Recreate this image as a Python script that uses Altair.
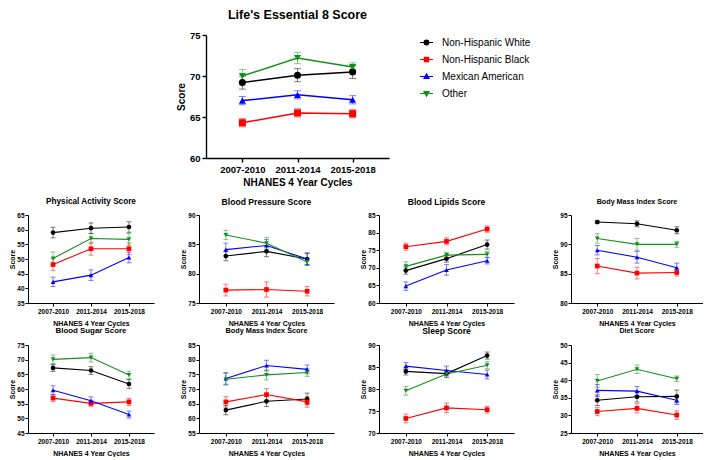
import altair as alt
import pandas as pd

FONT = "Liberation Sans"

cycles = ["2007-2010", "2011-2014", "2015-2018"]
groups = ["Non-Hispanic White", "Non-Hispanic Black", "Mexican American", "Other"]
colors = ["#000000", "#ff0000", "#0000ff", "#13901b"]
shapes = ["circle", "square", "triangle-up", "triangle-down"]

# rows: White, Black, Mexican American, Other ; columns: cycles
le8_mean = [[69.2, 70.1, 70.5], [64.3, 65.5, 65.4], [67.0, 67.7, 67.1], [70.0, 72.2, 71.1]]
le8_err = [[0.8, 0.8, 0.8], [0.5, 0.5, 0.5], [0.5, 0.5, 0.5], [0.8, 0.7, 0.5]]

pa_mean = [[59.0, 60.5, 60.9], [48.1, 53.5, 53.5], [42.2, 44.5, 50.5], [50.2, 57.0, 56.7]]
pa_err = [[1.8, 1.8, 1.8], [2.0, 2.2, 2.0], [1.6, 1.8, 1.8], [2.2, 1.8, 2.0]]

bp_mean = [[83.0, 83.8, 82.5], [77.2, 77.3, 77.0], [84.1, 84.8, 82.5], [86.6, 85.2, 82.0]]
bp_err = [[0.8, 0.9, 1.0], [1.0, 1.3, 0.8], [1.1, 1.0, 1.0], [0.8, 1.0, 0.6]]

lip_mean = [[69.2, 72.6, 76.6], [76.0, 77.5, 81.0], [64.8, 69.4, 72.0], [70.4, 73.6, 73.8]]
lip_err = [[1.0, 1.0, 1.3], [1.0, 1.0, 0.9], [1.2, 1.5, 0.9], [1.3, 0.8, 0.8]]

bmi_mean = [[93.8, 93.5, 92.4], [86.3, 85.1, 85.2], [89.0, 87.8, 86.0], [91.0, 90.0, 90.0]]
bmi_err = [[0.2, 0.5, 0.6], [1.3, 1.0, 0.6], [0.8, 1.0, 0.8], [0.8, 1.0, 0.5]]

sugar_mean = [[67.2, 66.3, 61.7], [56.9, 55.1, 55.6], [59.6, 56.0, 51.3], [70.1, 70.7, 64.8]]
sugar_err = [[1.2, 1.3, 1.5], [1.2, 1.0, 1.2], [1.5, 1.3, 1.2], [1.5, 1.5, 1.3]]

bmi2_mean = [[62.8, 65.8, 66.6], [65.6, 68.1, 65.6], [73.6, 78.0, 76.7], [73.3, 74.8, 75.6]]
bmi2_err = [[1.6, 1.8, 2.0], [1.8, 2.0, 1.8], [2.0, 1.8, 1.5], [2.0, 1.7, 1.3]]

sleep_mean = [[84.0, 83.5, 87.6], [73.3, 75.7, 75.3], [85.2, 84.2, 83.3], [79.6, 83.4, 85.4]]
sleep_err = [[0.8, 0.8, 0.8], [1.0, 1.1, 0.8], [0.8, 1.0, 1.0], [1.0, 0.8, 0.8]]

diet_mean = [[34.3, 35.3, 35.4], [31.1, 32.0, 30.1], [37.1, 36.9, 34.3], [39.8, 43.1, 40.4]]
diet_err = [[1.5, 1.5, 1.8], [1.2, 1.3, 1.2], [1.7, 1.3, 1.2], [1.8, 1.2, 0.8]]

legend_paths = [
    "M-1,0H1M-0.36,0A0.36,0.36,0,1,0,0.36,0A0.36,0.36,0,1,0,-0.36,0Z",
    "M-1,0H1M-0.32,-0.32H0.32V0.32H-0.32Z",
    "M-1,0H1M0,-0.4L0.38,0.28H-0.38Z",
    "M-1,0H1M0,0.4L0.38,-0.28H-0.38Z",
]


def make_df(means, errs):
    rows = []
    for g, ms, es in zip(groups, means, errs):
        for c, m, e in zip(cycles, ms, es):
            rows.append({"cycle": c, "group": g, "score": m, "lo": m - e, "hi": m + e})
    return pd.DataFrame(rows)


def make_panel(title, means, errs, ymin, ymax, width, height, main=False,
               title_size=8.5, title_offset=6):
    df = make_df(means, errs)
    tick_fs = 9.5 if main else 6.5
    axt_fs = 10 if main else 7
    tsize = 4 if main else 3
    dw = 1.4 if main else 1
    x = alt.X("cycle:N", sort=cycles, scale=alt.Scale(type="point", padding=0.66),
              axis=alt.Axis(title="NHANES 4 Year Cycles", labelAngle=0, labelFontSize=tick_fs,
                            titleFontSize=axt_fs, tickSize=tsize, domainWidth=dw, tickWidth=dw,
                            labelPadding=2, titlePadding=4 if main else 5, labelOverlap=False))
    yscale = alt.Scale(domain=[ymin, ymax], nice=False, zero=False)
    yaxis = alt.Axis(title="Score", values=list(range(ymin, ymax + 1, 5)),
                     labelFontSize=tick_fs, titleFontSize=axt_fs, tickSize=tsize,
                     domainWidth=dw, tickWidth=dw, labelPadding=2 if main else 1,
                     titlePadding=3 if main else 1, labelOverlap=False, labelFlush=False)
    y = alt.Y("score:Q", scale=yscale, axis=yaxis)
    ylo = alt.Y("lo:Q", scale=yscale, axis=yaxis)
    yhi = alt.Y("hi:Q", scale=yscale, axis=yaxis)
    col = alt.Color("group:N", sort=groups, scale=alt.Scale(domain=groups, range=colors), legend=None)
    shp = alt.Shape("group:N", sort=groups, scale=alt.Scale(domain=groups, range=shapes), legend=None)
    base = alt.Chart(df)
    cap = 7 if main else 5
    bars = base.mark_rule(opacity=0.5, strokeWidth=1).encode(x=x, y=ylo, y2="hi:Q", color=col)
    cap_lo = base.mark_tick(opacity=0.5, size=cap, thickness=1, orient="horizontal").encode(x=x, y=ylo, color=col)
    cap_hi = base.mark_tick(opacity=0.5, size=cap, thickness=1, orient="horizontal").encode(x=x, y=yhi, color=col)
    lines = base.mark_line(strokeWidth=1.5 if main else 1.1).encode(x=x, y=y, color=col)
    pts = base.mark_point(filled=True, opacity=1, size=50 if main else 22).encode(x=x, y=y, color=col, shape=shp)
    layers = [bars, cap_lo, cap_hi, lines, pts]
    if main:
        leg_props = dict(title=None, orient="right", offset=30, labelFontSize=10, labelFont=FONT,
                         labelColor="black", symbolSize=169, symbolStrokeWidth=1.2,
                         labelOffset=8, rowPadding=4)
        leg = base.transform_filter("false").mark_point(filled=True, opacity=1, strokeWidth=1.2).encode(
            x=x, y=y,
            fill=alt.Fill("group:N", sort=groups, scale=alt.Scale(domain=groups, range=colors),
                          legend=alt.Legend(**leg_props)),
            stroke=alt.Stroke("group:N", sort=groups, scale=alt.Scale(domain=groups, range=colors),
                              legend=alt.Legend(**leg_props)),
            shape=alt.Shape("group:N", sort=groups, scale=alt.Scale(domain=groups, range=legend_paths),
                            legend=alt.Legend(**leg_props)),
        )
        layers.append(leg)
    ch = alt.layer(*layers).properties(
        width=width, height=height,
        title=alt.TitleParams(title, fontSize=title_size, offset=title_offset, frame="group",
                              font=FONT, fontWeight="bold", color="black"))
    if main:
        ch = ch.resolve_scale(shape="independent", fill="independent", stroke="independent")
    return ch


main = make_panel("Life's Essential 8 Score", le8_mean, le8_err, 60, 75, 183, 123, main=True,
                  title_size=12.5, title_offset=9)
spacer = alt.Chart(pd.DataFrame({"a": [0]})).mark_point(opacity=0).properties(width=148, height=10)
top = alt.hconcat(spacer, main, spacing=0)

T1 = 14.0
T2 = 14.7
p1 = make_panel("Physical Activity Score", pa_mean, pa_err, 35, 65, 126, 88, title_size=8.2, title_offset=T1 - 8.2)
p2 = make_panel("Blood Pressure Score", bp_mean, bp_err, 75, 90, 135, 88, title_size=8.6, title_offset=T1 - 8.6)
p3 = make_panel("Blood Lipids Score", lip_mean, lip_err, 60, 85, 135, 88, title_size=8.5, title_offset=T1 - 8.5)
p4 = make_panel("Body Mass Index Score", bmi_mean, bmi_err, 80, 95, 132, 88, title_size=7.2, title_offset=T1 - 7.2)
q1 = make_panel("Blood Sugar Score", sugar_mean, sugar_err, 45, 75, 126, 88, title_size=7.9, title_offset=T2 - 7.9)
q2 = make_panel("Body Mass Index Score", bmi2_mean, bmi2_err, 55, 85, 135, 88, title_size=7.3, title_offset=T2 - 7.3)
q3 = make_panel("Sleep Score", sleep_mean, sleep_err, 70, 90, 135, 88, title_size=8.5, title_offset=T2 - 8.5)
q4 = make_panel("Diet Score", diet_mean, diet_err, 25, 50, 132, 88, title_size=7.1, title_offset=T2 - 7.1)

row1 = alt.hconcat(alt.hconcat(p1, p2, p3, spacing=25), p4, spacing=37)
row2 = alt.hconcat(alt.hconcat(q1, q2, q3, spacing=25), q4, spacing=37)
bottom = alt.vconcat(row1, row2, spacing=0)

chart = alt.vconcat(top, bottom, spacing=9).resolve_scale(
    color="independent", shape="independent", fill="independent", stroke="independent"
).properties(padding=0).configure(font=FONT).configure_view(stroke=None).configure_axis(
    domainColor="black", tickColor="black", labelColor="black", titleColor="black", grid=False,
    labelFont=FONT, titleFont=FONT, labelFontWeight="bold", titleFontWeight="bold"
).configure_title(font=FONT, fontWeight="bold", color="black")

chart.save("out.html", embed_options={"renderer": "svg", "actions": False})
